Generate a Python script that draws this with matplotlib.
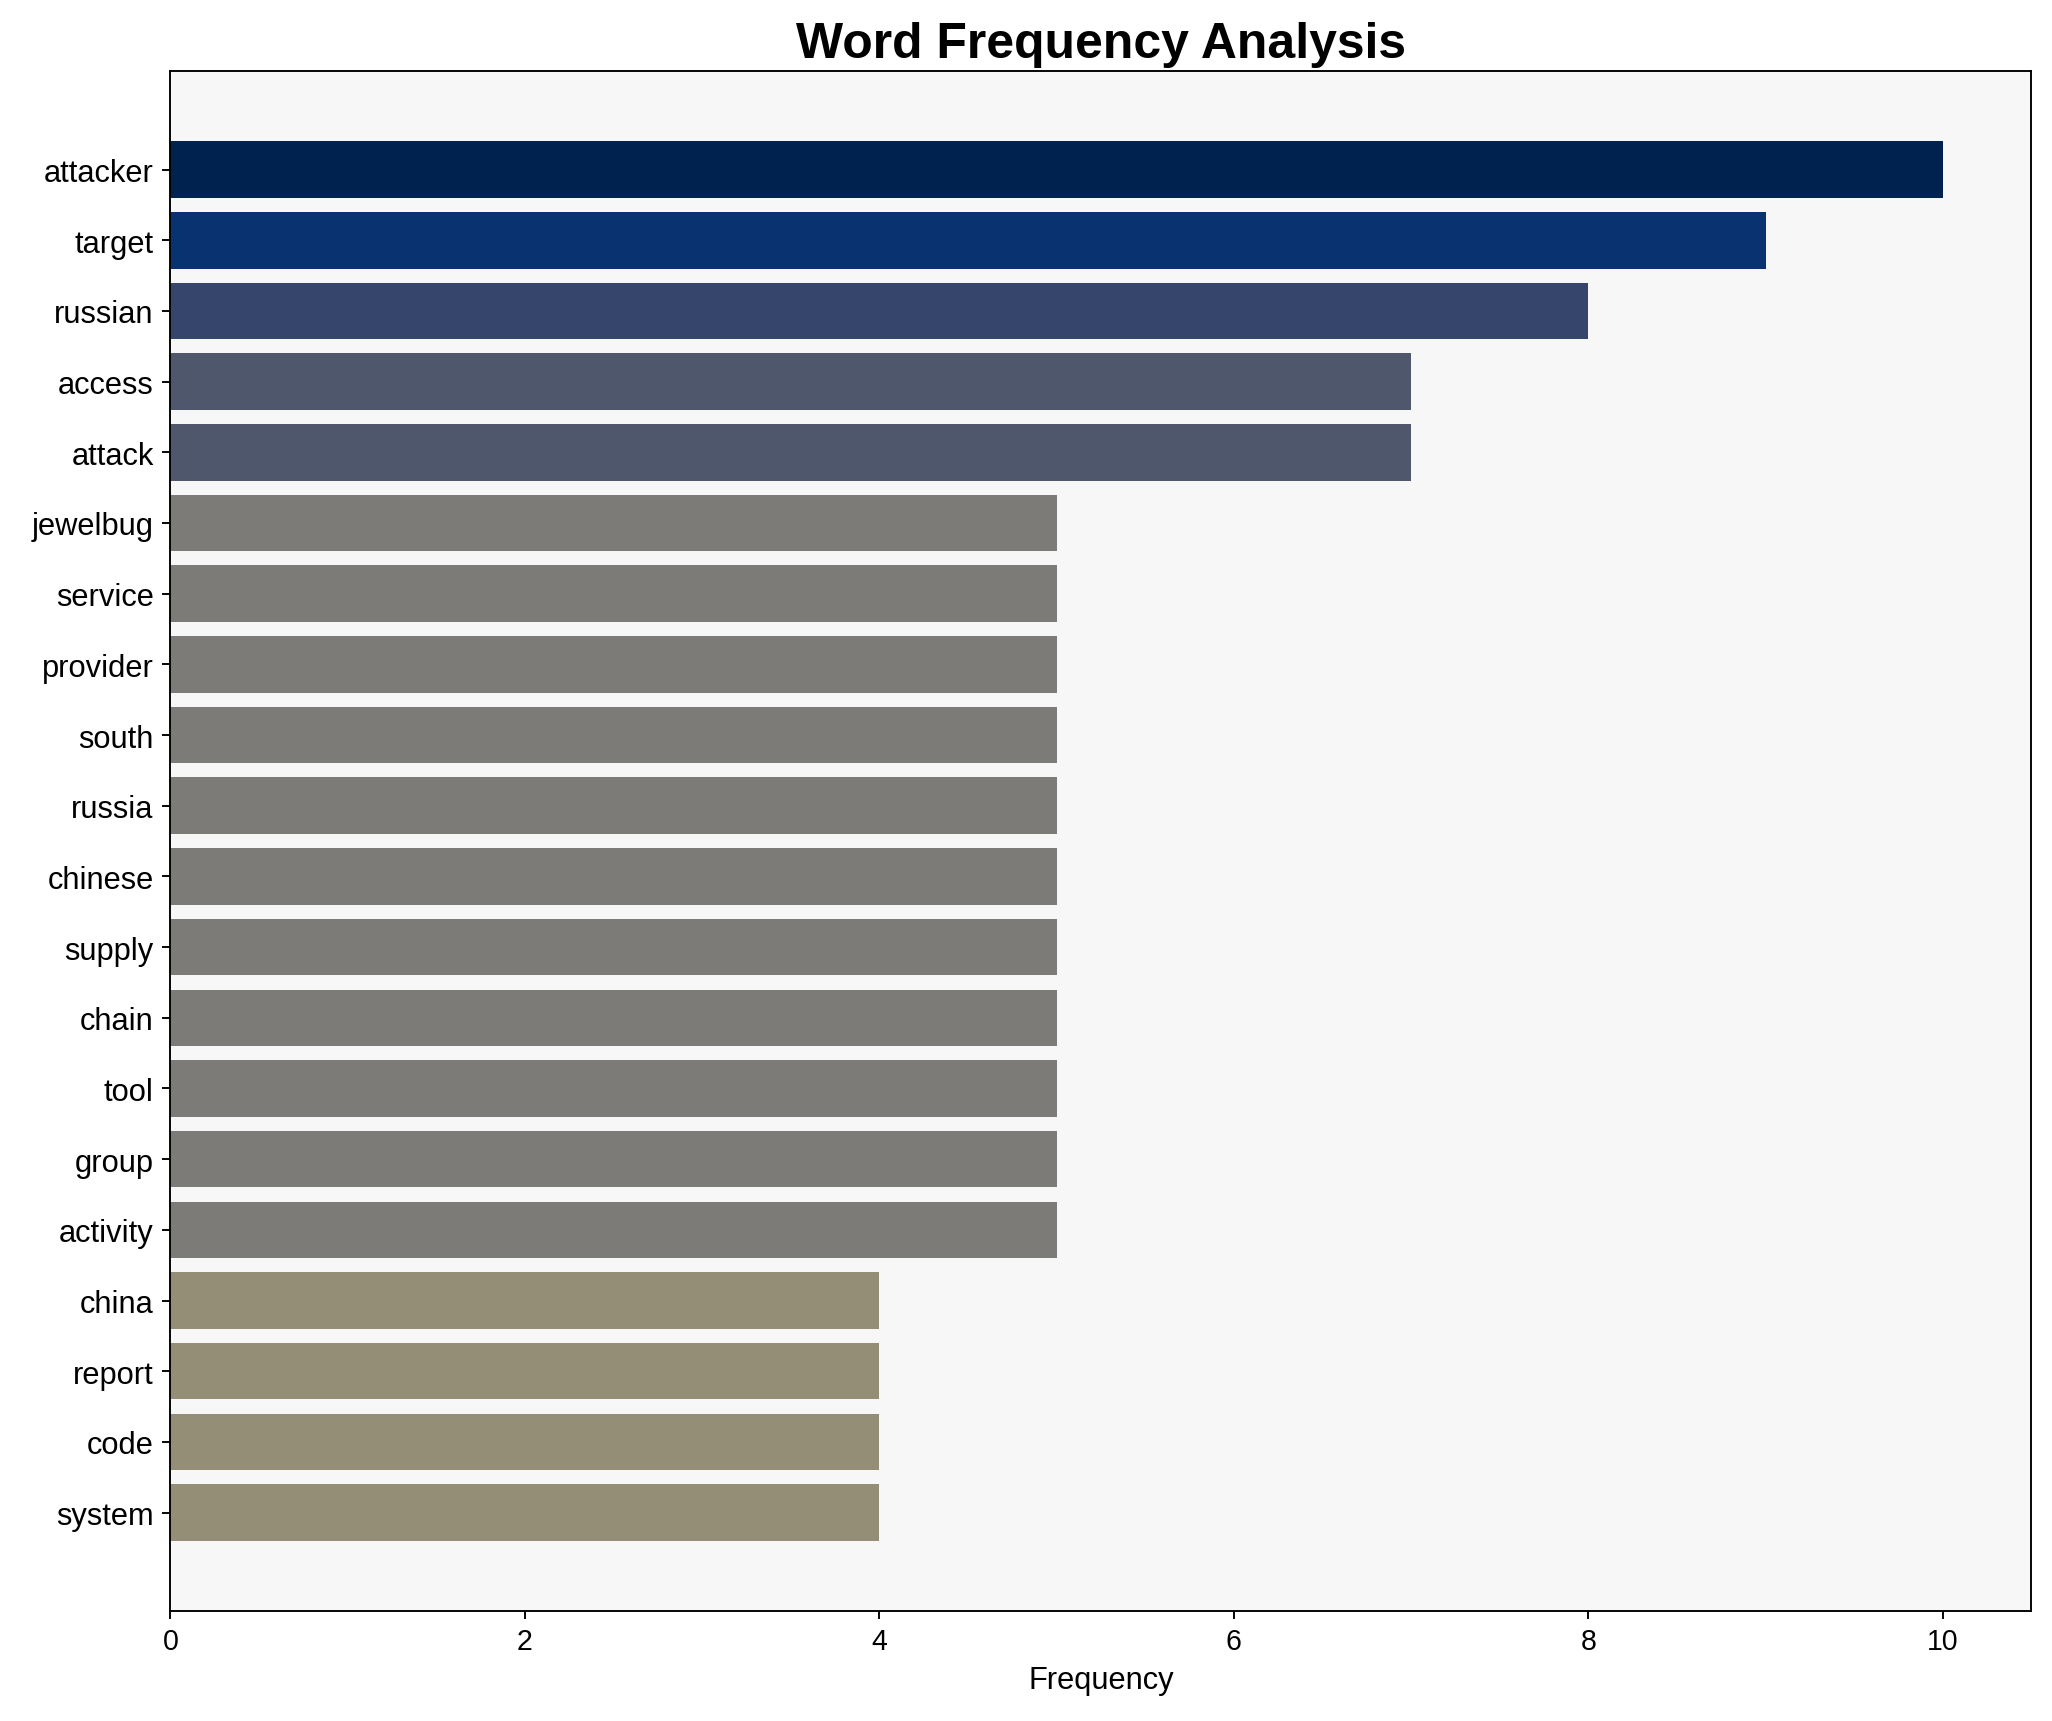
import numpy as np
import matplotlib
matplotlib.use("Agg")
import matplotlib.pyplot as plt

plt.rcParams['font.family'] = ['Liberation Sans', 'DejaVu Sans']

# word counts
words = ["attacker", "target", "russian", "access", "attack", "jewelbug",
         "service", "provider", "south", "russia", "chinese", "supply",
         "chain", "tool", "group", "activity", "china", "report", "code",
         "system"]
counts = [10, 9, 8, 7, 7, 5, 5, 5, 5, 5, 5, 5, 5, 5, 5, 5, 4, 4, 4, 4]

counts = np.array(counts)
colors = plt.cm.cividis_r(counts / counts.max())

fig, ax = plt.subplots(figsize=(12, 10.07), dpi=171)
ax.set_facecolor('#f7f7f7')

y = np.arange(len(words))
ax.barh(y, counts, color=colors, height=0.8)
ax.set_yticks(y)
ax.set_yticklabels(words)
ax.invert_yaxis()

ax.set_xlabel('Frequency', fontsize=13)
ax.set_title('Word Frequency Analysis', fontsize=21, fontweight='bold')
ax.tick_params(axis='y', labelsize=13)
ax.tick_params(axis='x', labelsize=12)

fig.subplots_adjust(left=0.083, right=0.99, top=0.958, bottom=0.064)
fig.savefig('out.png', dpi=171)
